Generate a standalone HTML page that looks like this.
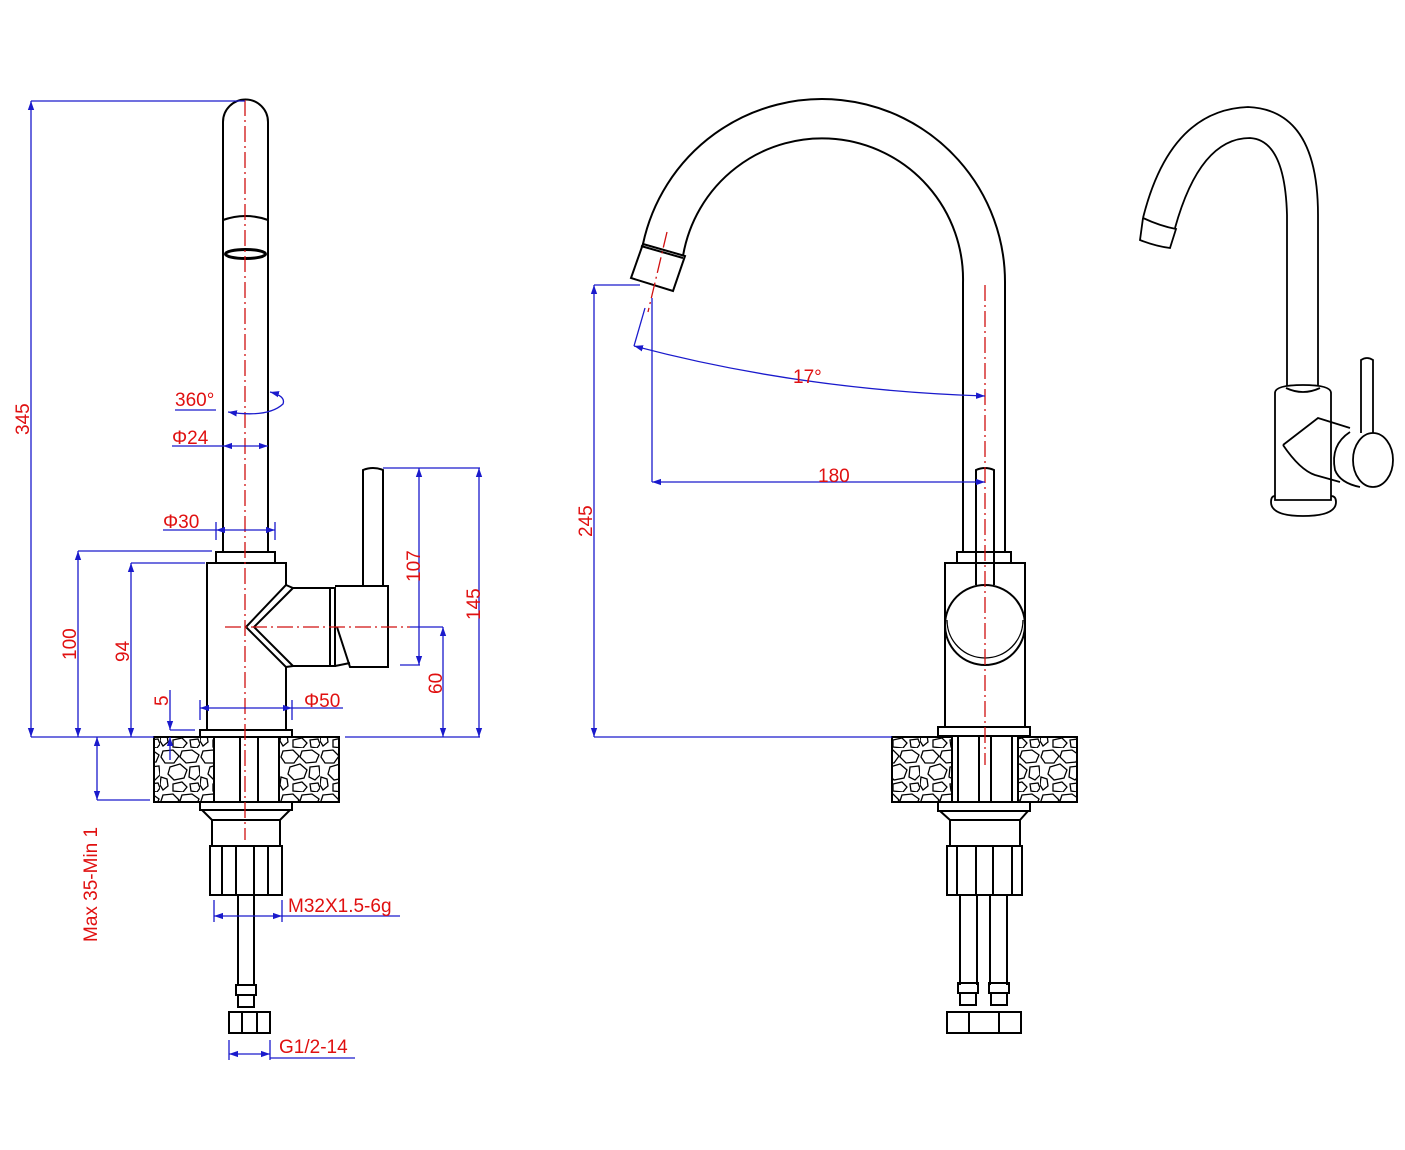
<!DOCTYPE html>
<html><head><meta charset="utf-8"><style>
html,body{margin:0;padding:0;background:#fff;}
svg{display:block;}
text{font-family:"Liberation Sans",sans-serif;fill:#e01010;font-size:19px;}
</style></head><body>
<svg width="1405" height="1150" viewBox="0 0 1405 1150" xmlns="http://www.w3.org/2000/svg">
<defs>
<marker id="ar" viewBox="0 0 10 10" refX="10" refY="5" markerWidth="9" markerHeight="9" orient="auto-start-reverse" markerUnits="userSpaceOnUse"><path d="M0,1.5 L10,5 L0,8.5 z" fill="#1a1acc"/></marker>
<pattern id="stone" width="40" height="44" patternUnits="userSpaceOnUse">
<g fill="none" stroke="#000" stroke-width="1.3">
<path d="M3,3 L13,2 L19,8 L14,15 L5,15 L1,9 z"/>
<path d="M22,3 L32,2 L39,7 L36,14 L26,15 L20,9 z"/>
<path d="M10,19 L20,16 L27,22 L24,30 L14,32 L8,26 z"/>
<path d="M30,19 L39,18 L40,27 L35,32 L29,29 z"/>
<path d="M1,29 L7,31 L8,38 L3,42 L0,37 z"/>
<path d="M13,36 L22,34 L27,39 L23,44 L13,43 z"/>
<path d="M30,36 L38,35 L40,40 L37,44 L31,43 z"/>
</g></pattern>
</defs>

<!-- ================= LEFT VIEW ================= -->
<g fill="none" stroke="#000" stroke-width="2">
<path d="M223,552 L223,122 A22.5,22.5 0 0 1 268,122 L268,552"/>
<path d="M223,220 Q245.5,212 268,220"/>
<ellipse cx="245.5" cy="254" rx="20" ry="4.5" stroke-width="3"/>
<rect x="216" y="552" width="59" height="11"/>
<path d="M207,730 L207,563 L286,563 L286,585 L246,627 L286,667 L286,730"/>
<path d="M286,585 L293,588 L330,588 M286,667 L293,666 L330,666 M293,588 L254,627 L293,666"/>
<rect x="330" y="588" width="5" height="78"/>
<path d="M335,586 L388,586 L388,667 L350,667 L337,627"/>
<path d="M335,666 L350,663"/>
<path d="M363,587 L363,470 Q373,466 383,470 L383,587"/>
<rect x="200" y="730" width="92" height="7"/>
<rect x="154" y="737" width="60" height="65" fill="url(#stone)"/>
<rect x="279" y="737" width="60" height="65" fill="url(#stone)"/>
<path d="M214,737 L214,802 M279,737 L279,802 M240,737 L240,802 M258,737 L258,802"/>
<rect x="200" y="802" width="92" height="8"/>
<path d="M202,810 L212,820 L280,820 L290,810"/>
<rect x="212" y="820" width="68" height="26"/>
<rect x="210" y="846" width="72" height="49"/>
<path d="M222,846 L222,895 M236,846 L236,895 M254,846 L254,895 M268,846 L268,895"/>
<path d="M238,895 L238,985 M254,895 L254,985"/>
<rect x="236" y="985" width="20" height="10"/>
<rect x="238" y="995" width="16" height="12"/>
<rect x="229" y="1012" width="41" height="21"/>
<path d="M242,1012 L242,1033 M257,1012 L257,1033"/>
</g>
<g stroke="#d01010" stroke-width="1.3" stroke-dasharray="16,4,2,4" fill="none">
<path d="M245,100 L245,840"/>
<path d="M225,627 L410,627"/>
</g>
<g stroke="#1a1acc" stroke-width="1.3" fill="none">
<path d="M31,101 L245,101"/>
<path d="M31,101 L31,737" marker-start="url(#ar)" marker-end="url(#ar)"/>
<path d="M31,737 L154,737 M345,737 L480,737"/>
<path d="M78,551 L212,551"/>
<path d="M78,551 L78,737" marker-start="url(#ar)" marker-end="url(#ar)"/>
<path d="M131,563 L205,563"/>
<path d="M131,563 L131,737" marker-start="url(#ar)" marker-end="url(#ar)"/>
<path d="M170,690 L170,730" marker-end="url(#ar)"/>
<path d="M170,760 L170,737" marker-end="url(#ar)"/>
<path d="M170,730 L195,730"/>
<path d="M97,800 L150,800"/>
<path d="M97,737 L97,800" marker-start="url(#ar)" marker-end="url(#ar)"/>
<path d="M383,468 L480,468"/>
<path d="M419,468 L419,665" marker-start="url(#ar)" marker-end="url(#ar)"/>
<path d="M400,665 L420,665"/>
<path d="M479,468 L479,737" marker-start="url(#ar)" marker-end="url(#ar)"/>
<path d="M410,627 L443,627"/>
<path d="M443,627 L443,737" marker-start="url(#ar)" marker-end="url(#ar)"/>
<path d="M200,700 L200,720 M292,700 L292,720"/>
<path d="M200,708 L292,708" marker-start="url(#ar)" marker-end="url(#ar)"/>
<path d="M292,708 L343,708"/>
<path d="M216,522 L216,540 M275,522 L275,540"/>
<path d="M216,530 L275,530" marker-start="url(#ar)" marker-end="url(#ar)"/>
<path d="M163,530 L216,530"/>
<path d="M223,446 L268,446" marker-start="url(#ar)" marker-end="url(#ar)"/>
<path d="M172,446 L223,446"/>
<path d="M175,410 L216,410"/>
<path d="M228,412 Q268,418 283,404 Q286,396 270,392" marker-start="url(#ar)" marker-end="url(#ar)"/>
<path d="M214,900 L214,922 M282,900 L282,922"/>
<path d="M214,916 L282,916" marker-start="url(#ar)" marker-end="url(#ar)"/>
<path d="M282,916 L400,916"/>
<path d="M229,1040 L229,1060 M270,1040 L270,1060"/>
<path d="M229,1054 L270,1054" marker-start="url(#ar)" marker-end="url(#ar)"/>
<path d="M270,1058 L355,1058"/>
</g>
<text transform="translate(29,435) rotate(-90)">345</text>
<text transform="translate(76,660) rotate(-90)">100</text>
<text transform="translate(129,662) rotate(-90)">94</text>
<text transform="translate(168,706) rotate(-90)">5</text>
<text transform="translate(97,942) rotate(-90)">Max 35-Min 1</text>
<text transform="translate(420,582) rotate(-90)">107</text>
<text transform="translate(480,620) rotate(-90)">145</text>
<text transform="translate(442,694) rotate(-90)">60</text>
<text x="175" y="406">360°</text>
<text x="172" y="444">Φ24</text>
<text x="163" y="528">Φ30</text>
<text x="304" y="707">Φ50</text>
<text x="288" y="912">M32X1.5-6g</text>
<text x="279" y="1053">G1/2-14</text>

<!-- ================= MIDDLE VIEW ================= -->
<g fill="none" stroke="#000" stroke-width="2">
<path d="M1005,552 L1005,283 A183,183 0 0 0 643,244"/>
<path d="M963,552 L963,283 A141,141 0 0 0 683,256"/>
<path d="M643,244 L631,278 L673,291 L685,256 z"/>
<path d="M641,246 L683,258"/>
<rect x="957" y="552" width="54" height="11"/>
<rect x="945" y="563" width="80" height="164"/>
<circle cx="985" cy="625" r="40"/>
<path d="M947,620 A38,38 0 0 0 1023,620" stroke-width="1.3"/>
<path d="M976,585 L976,470 Q985,466 994,470 L994,585"/>
<rect x="938" y="727" width="92" height="9"/>
<rect x="892" y="737" width="60" height="65" fill="url(#stone)"/>
<rect x="1018" y="737" width="59" height="65" fill="url(#stone)"/>
<path d="M952,737 L952,802 M1018,737 L1018,802 M958,737 L958,802 M979,737 L979,802 M991,737 L991,802 M1012,737 L1012,802"/>
<rect x="938" y="802" width="92" height="9"/>
<path d="M940,811 L950,820 L1020,820 L1028,811"/>
<rect x="950" y="820" width="70" height="26"/>
<rect x="947" y="846" width="75" height="49"/>
<path d="M957,846 L957,895 M976,846 L976,895 M993,846 L993,895 M1012,846 L1012,895"/>
<path d="M960,895 L960,985 M977,895 L977,985 M990,895 L990,985 M1007,895 L1007,985"/>
<rect x="958" y="983" width="20" height="10"/>
<rect x="960" y="993" width="16" height="12"/>
<rect x="989" y="983" width="20" height="10"/>
<rect x="991" y="993" width="16" height="12"/>
<rect x="947" y="1012" width="74" height="21"/>
<path d="M969,1012 L969,1033 M999,1012 L999,1033"/>
</g>
<g stroke="#d01010" stroke-width="1.3" stroke-dasharray="16,4,2,4" fill="none">
<path d="M985,285 L985,765"/>
<path d="M667,232 L648,312"/>
</g>
<g stroke="#1a1acc" stroke-width="1.3" fill="none">
<path d="M594,285 L640,285"/>
<path d="M594,285 L594,737" marker-start="url(#ar)" marker-end="url(#ar)"/>
<path d="M594,737 L892,737"/>
<path d="M652,298 L652,482"/>
<path d="M652,482 L985,482" marker-start="url(#ar)" marker-end="url(#ar)"/>
<path d="M645,308 L634,346"/>
<path d="M634,346 Q800,390 985,396" marker-start="url(#ar)" marker-end="url(#ar)"/>
</g>
<text transform="translate(592,537) rotate(-90)">245</text>
<text x="818" y="482">180</text>
<text x="793" y="383">17°</text>

<!-- ================= RIGHT ISO VIEW ================= -->
<g fill="none" stroke="#000" stroke-width="1.8">
<path d="M1287,386 L1287,215 Q1285,140 1250,138 Q1200,138 1175,228"/>
<path d="M1318,386 L1318,215 Q1318,110 1248,107 Q1170,110 1143,218"/>
<path d="M1143,218 L1140,240 Q1155,246 1170,248 L1176,229 Q1160,226 1143,218"/>
<path d="M1275,393 Q1275,385 1303,385 Q1331,385 1331,393 L1331,500 L1275,500 z"/>
<path d="M1286,388 Q1303,396 1320,388"/>
<path d="M1271,502 Q1271,516 1303,516 Q1336,516 1336,502 Q1336,496 1331,496 M1275,496 Q1271,496 1271,502"/>
<path d="M1283,445 L1318,418 L1350,428 M1283,445 Q1300,470 1315,475 L1340,482"/>
<ellipse cx="1373" cy="460" rx="20" ry="27"/>
<path d="M1350,432 Q1330,445 1335,470 Q1340,483 1360,487"/>
<path d="M1361,433 L1361,360 Q1367,356 1373,360 L1373,433"/>
</g>
</svg>
</body></html>
